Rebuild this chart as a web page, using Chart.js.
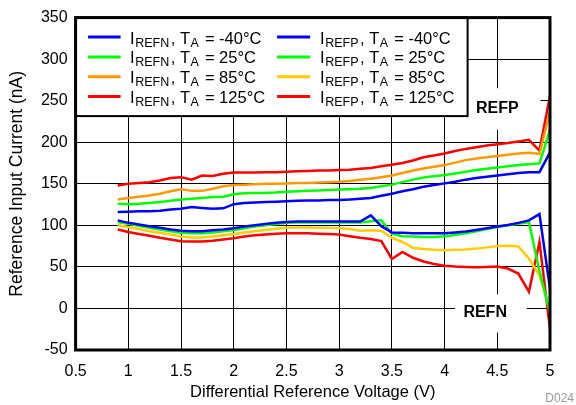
<!DOCTYPE html>
<html>
<head>
<meta charset="utf-8">
<script src="https://cdn.jsdelivr.net/npm/chart.js@4"></script>
<style>
  html, body { margin: 0; padding: 0; background: #fff; }
  canvas { display: block; }
</style>
</head>
<body>
<canvas id="chart" width="576" height="405"></canvas>
<script>
const voltage = [0.9, 1.0, 1.1, 1.2, 1.3, 1.4, 1.5, 1.6, 1.7, 1.8, 1.9, 2.0, 2.1, 2.2, 2.3, 2.4, 2.5, 2.6, 2.7, 2.8, 2.9,
  3.0, 3.1, 3.2, 3.3, 3.4, 3.5, 3.6, 3.7, 3.8, 3.9, 4.0, 4.1, 4.2, 4.3, 4.4, 4.5, 4.6, 4.7, 4.8, 4.9, 5.0];

// upper group of curves
const refnM40 = [116, 116.5, 117, 117, 117.5, 119, 120, 122, 121, 120, 120.5, 125.5, 127, 127.5, 128, 128.5, 129, 129.5, 130, 130, 130.5,
  130.5, 131, 132, 133, 135.5, 138, 141, 143.5, 146.5, 148.5, 150.5, 152.5, 155, 157, 158.5, 160, 161.5, 163, 164, 164, 188];
const refn25 = [126, 125.5, 126, 127, 128, 129.5, 131, 132, 133, 134, 134.5, 137.5, 138.5, 139, 139, 139.5, 140.5, 141, 141.5, 142, 142.5,
  143, 143.5, 144, 145, 147, 149, 152, 155, 157.5, 159, 160.5, 162.5, 164.5, 166.5, 168, 169.5, 171, 172.5, 173.5, 174.5, 215];
const refn85 = [131, 133, 134.5, 136, 138, 141, 143.5, 141.5, 141.5, 144, 147, 148.5, 149, 149.5, 150, 150, 150.5, 151, 151, 151.5, 152,
  152.5, 153.5, 155, 156, 158, 160, 163, 166, 168.5, 170.5, 172.5, 175.5, 178.5, 180.5, 182, 183.5, 185, 186.5, 187.5, 186, 237];
const refn125 = [148, 150, 151, 152, 154, 157, 158, 155, 160, 159.5, 162, 163.5, 163.5, 163.5, 164, 164, 164.5, 165, 165.5, 166, 166,
  166.5, 167, 168, 169, 171, 173, 175, 178, 182, 184, 186.5, 189.5, 192, 194, 196, 197.5, 199, 201, 203, 190, 256];

// lower group of curves
const refpM40 = [106, 103, 101, 99, 97, 95, 93.5, 93, 93, 94, 95, 96.5, 98.5, 100, 101.5, 103, 104, 104.5, 104.5, 104.5, 104.5,
  104.5, 104.5, 104.5, 112, 99, 91.5, 91, 90.5, 90.5, 90.5, 90.5, 91.5, 92.5, 94.5, 96.5, 98.5, 100.5, 103, 106, 113.5, 24];
const refp25 = [104, 102, 99.5, 97, 95, 93, 91, 90.5, 90.5, 91.5, 93, 94.5, 96.5, 98.5, 100, 101.5, 103, 103.5, 103.5, 103.5, 103.5,
  103.5, 103.5, 103.5, 105, 106, 90, 87, 86.5, 86, 86, 87, 88.5, 90.5, 93, 95.5, 98, 100, 102, 104, 45, -5];
const refp85 = [100, 98, 95.5, 93, 91, 89, 86.5, 85.5, 85.5, 86.5, 88, 89.5, 91.5, 93, 94.5, 96, 97, 97.5, 97.5, 97, 97,
  96.5, 95.5, 93.5, 94, 93.5, 85, 80, 73, 71.5, 70.5, 70, 70.5, 71, 72, 73.5, 75, 75.5, 74.5, 60, 40, -2];
const refp125 = [95, 92, 89.5, 87.5, 85, 83, 81, 80.5, 80.5, 81.5, 83, 84.5, 86.5, 88, 89, 90, 90.5, 90.5, 90.5, 90, 89.5,
  89, 87, 85, 83.5, 81, 59.5, 68, 61, 56.5, 53.5, 51.5, 50.5, 50, 49.5, 50, 50.5, 48, 42, 20, 80, -25];

const temps = ['-40', '25', '85', '125'];
const refnColors = ['#0000ff', '#00ff00', '#ff9900', '#ff0000'];
const refpColors = ['#0000ff', '#00ff00', '#ffcc00', '#ff0000'];

const xTicks = [0.5, 1, 1.5, 2, 2.5, 3, 3.5, 4, 4.5, 5];
const yTicks = [-50, 0, 50, 100, 150, 200, 250, 300, 350];

const FONT = '"Liberation Sans", Arial, Helvetica, sans-serif';

const toPoints = arr => arr.map((v, i) => ({ x: voltage[i], y: v }));

const datasets = [];
[refnM40, refn25, refn85, refn125].forEach((arr, i) => {
  datasets.push({ label: 'IREFN ' + temps[i], data: toPoints(arr), borderColor: refnColors[i] });
});
[refpM40, refp25, refp85, refp125].forEach((arr, i) => {
  datasets.push({ label: 'IREFP ' + temps[i], data: toPoints(arr), borderColor: refpColors[i] });
});
datasets.forEach(d => {
  d.borderWidth = 2.5;
  d.pointRadius = 0;
  d.fill = false;
  d.tension = 0;
});

// draws "I<sub>..</sub>, T<sub>A</sub> = ..°C"
function drawEntry(ctx, x, y, sub, temp) {
  const parts = [
    ['I', false], [sub, true], [', T', false], ['A', true], [' = ' + temp + '\u00b0C', false]
  ];
  let cx = x;
  parts.forEach(([t, isSub]) => {
    ctx.font = (isSub ? '12.5px ' : '16.5px ') + FONT;
    ctx.fillText(t, cx, isSub ? y + 3 : y);
    cx += ctx.measureText(t).width + (isSub ? 1.5 : 0.5);
  });
}

const decorPlugin = {
  id: 'decor',
  beforeDatasetsDraw(chart) {
    const { ctx, scales: { x, y } } = chart;
    ctx.save();
    ctx.fillStyle = '#fff';
    // blank patches behind REFP / REFN labels
    ctx.fillRect(x.getPixelForValue(4.2), y.getPixelForValue(265), x.getPixelForValue(4.91) - x.getPixelForValue(4.2), y.getPixelForValue(215) - y.getPixelForValue(265));
    ctx.fillRect(x.getPixelForValue(4.1), y.getPixelForValue(17), x.getPixelForValue(4.78) - x.getPixelForValue(4.1), y.getPixelForValue(-29) - y.getPixelForValue(17));
    ctx.fillStyle = '#000';
    ctx.font = 'bold 16px ' + FONT;
    ctx.textAlign = 'center';
    ctx.textBaseline = 'middle';
    ctx.fillText('REFP', x.getPixelForValue(4.5), y.getPixelForValue(240));
    ctx.fillText('REFN', x.getPixelForValue(4.385), y.getPixelForValue(-5));
    ctx.restore();
  },
  afterDatasetsDraw(chart) {
    const { ctx, chartArea: a } = chart;
    ctx.save();
    // legend box
    ctx.fillStyle = '#fff';
    ctx.fillRect(a.left, a.top, 392, 98.5);
    ctx.strokeStyle = '#000';
    ctx.lineWidth = 2;
    ctx.strokeRect(a.left, a.top, 392, 98.5);
    ctx.textAlign = 'left';
    ctx.textBaseline = 'alphabetic';
    ctx.fillStyle = '#000';
    temps.forEach((t, i) => {
      const base = a.top + 26 + i * 19.8;
      ctx.lineWidth = 3;
      ctx.strokeStyle = refnColors[i];
      ctx.beginPath();
      ctx.moveTo(a.left + 12.5, base - 6.5);
      ctx.lineTo(a.left + 45, base - 6.5);
      ctx.stroke();
      ctx.strokeStyle = refpColors[i];
      ctx.beginPath();
      ctx.moveTo(a.left + 201.5, base - 6.5);
      ctx.lineTo(a.left + 234.5, base - 6.5);
      ctx.stroke();
      drawEntry(ctx, a.left + 54.5, base, 'REFN', t);
      drawEntry(ctx, a.left + 244.5, base, 'REFP', t);
    });
    // plot frame
    ctx.strokeStyle = '#000';
    ctx.lineWidth = 3;
    ctx.strokeRect(a.left, a.top, a.right - a.left, a.bottom - a.top);
    // figure id
    ctx.fillStyle = '#999';
    ctx.font = '12px ' + FONT;
    ctx.textAlign = 'right';
    ctx.fillText('D024', 574, 402);
    ctx.restore();
  }
};

new Chart(document.getElementById('chart'), {
  type: 'line',
  data: { datasets },
  options: {
    responsive: false,
    animation: false,
    devicePixelRatio: 1,
    layout: { padding: { left: 0, right: 26, top: 14, bottom: 0 } },
    plugins: { legend: { display: false }, tooltip: { enabled: false } },
    scales: {
      x: {
        type: 'linear',
        min: 0.5,
        max: 5,
        afterBuildTicks: s => { s.ticks = xTicks.map(v => ({ value: v })); },
        afterFit: s => { s.height = 55; },
        ticks: { color: '#000', font: { family: FONT, size: 16 }, padding: 12, maxRotation: 0, callback: v => String(v) },
        grid: { color: '#000', lineWidth: 1, drawTicks: false },
        border: { display: false },
        title: { display: true, text: 'Differential Reference Voltage (V)', color: '#000', font: { family: FONT, size: 16.5 }, padding: { top: 0, bottom: 3 } }
      },
      y: {
        min: -50,
        max: 350,
        afterBuildTicks: s => { s.ticks = yTicks.map(v => ({ value: v })); },
        afterFit: s => { s.width = 75.6; },
        ticks: { color: '#000', font: { family: FONT, size: 16 }, padding: 8 },
        grid: { color: '#000', lineWidth: 1, drawTicks: false },
        border: { display: false },
        title: { display: true, text: 'Reference Input Current (nA)', color: '#000', font: { family: FONT, size: 17.5 }, padding: { top: 7, bottom: 0 } }
      }
    }
  },
  plugins: [decorPlugin]
});
</script>
</body>
</html>
